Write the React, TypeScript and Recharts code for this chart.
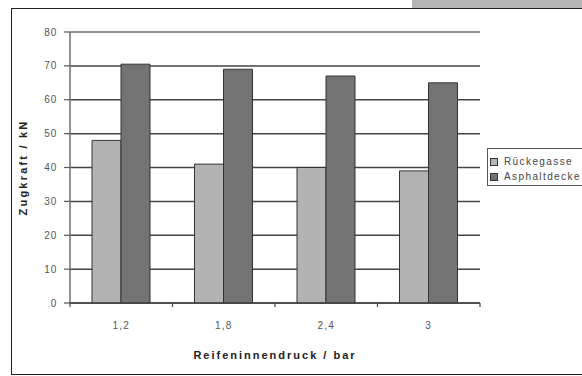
import {
  BarChart,
  Bar,
  XAxis,
  YAxis,
  CartesianGrid,
  ReferenceLine,
} from 'recharts';

const categories = ['1,2', '1,8', '2,4', '3'];
const rueckegasse = [48, 41, 40, 39];
const asphaltdecke = [70.5, 69, 67, 65];
const yTicks = [0, 10, 20, 30, 40, 50, 60, 70, 80];

const seriesInfo = [
  { key: 'rueckegasse', label: 'Rückegasse', color: '#b3b3b3' },
  { key: 'asphaltdecke', label: 'Asphaltdecke', color: '#737373' },
];

const data = categories.map((druck, i) => ({
  druck,
  rueckegasse: rueckegasse[i],
  asphaltdecke: asphaltdecke[i],
}));

const CHART_W = 582;
const CHART_H = 376;
const MARGIN = { top: 32, right: 102, bottom: 0, left: 0 };
const Y_AXIS_W = 70;
const PLOT_W = CHART_W - MARGIN.left - MARGIN.right - Y_AXIS_W;
const BAND = PLOT_W / categories.length;

const FONT = 'Arial, "Liberation Sans", sans-serif';

// category label in the middle, small tick marks on the band edges
function PressureTick(props: any) {
  const { x, y, payload, index } = props;
  const left = x - BAND / 2;
  const right = x + BAND / 2;
  return (
    <g>
      <line x1={left} y1={y} x2={left} y2={y + 4} stroke="#444" strokeWidth={1.2} />
      {index === categories.length - 1 && (
        <line x1={right} y1={y} x2={right} y2={y + 4} stroke="#444" strokeWidth={1.2} />
      )}
      <text
        x={x}
        y={y + 26}
        textAnchor="middle"
        fontSize={10}
        letterSpacing={1.2}
        fill="#555"
        fontFamily={FONT}
      >
        {payload.value}
      </text>
    </g>
  );
}

function LegendBox() {
  return (
    <div
      style={{
        position: 'absolute',
        left: 487,
        top: 148,
        border: '1.5px solid #555',
        height: 38,
        width: 110,
        boxSizing: 'border-box',
        padding: '5px 0 0 2px',
        fontFamily: FONT,
        fontSize: 10,
        letterSpacing: 1.4,
        color: '#444',
        background: '#fff',
      }}
    >
      {seriesInfo.map((it) => (
        <div key={it.key} style={{ display: 'flex', alignItems: 'center', height: 15 }}>
          <span
            style={{
              display: 'inline-block',
              width: 6,
              height: 6,
              background: it.color,
              border: '1px solid #333',
              marginRight: 6,
            }}
          />
          <span>{it.label}</span>
        </div>
      ))}
    </div>
  );
}

export default function App() {
  return (
    <div
      style={{
        position: 'absolute',
        top: 0,
        left: 0,
        width: CHART_W,
        height: CHART_H,
        overflow: 'hidden',
        background: '#fff',
      }}
    >
      {/* page strip above the frame */}
      <div
        style={{ position: 'absolute', left: 412, top: 0, width: 170, height: 8, background: '#b4b4b4' }}
      />
      {/* chart frame */}
      <div
        style={{
          position: 'absolute',
          left: 11,
          top: 8,
          width: 600,
          height: 367,
          border: '1.5px solid #222',
          boxSizing: 'border-box',
        }}
      />
      <div style={{ position: 'absolute', left: 0, top: 0 }}>
        <BarChart
          width={CHART_W}
          height={CHART_H}
          data={data}
          margin={MARGIN}
          barGap={0}
          barSize={29}
        >
          <CartesianGrid vertical={false} stroke="#444" strokeWidth={1.5} />
          <ReferenceLine y={80} stroke="#9a9a9a" strokeWidth={1.4} />
          <XAxis
            dataKey="druck"
            height={CHART_H - 303}
            axisLine={{ stroke: '#444', strokeWidth: 1.5 }}
            tickLine={false}
            tickSize={0}
            tickMargin={0}
            tick={<PressureTick />}
            interval={0}
            label={{
              value: 'Reifeninnendruck / bar',
              position: 'insideBottom',
              offset: 17,
              style: {
                fontFamily: FONT,
                fontSize: 11,
                fontWeight: 'bold',
                letterSpacing: 2,
                fill: '#222',
              },
            }}
          />
          <YAxis
            width={Y_AXIS_W}
            domain={[0, 80]}
            ticks={yTicks}
            interval={0}
            axisLine={{ stroke: '#777', strokeWidth: 1.6 }}
            tickLine={{ stroke: '#555', strokeWidth: 1.2 }}
            tickSize={6}
            tickMargin={7}
            tick={{ fontSize: 10, fill: '#555', fontFamily: FONT, letterSpacing: 0.8 }}
            label={({ viewBox }: any) => {
              const cx = 23;
              const cy = viewBox.y + viewBox.height / 2;
              return (
                <text
                  x={cx}
                  y={cy}
                  transform={`rotate(-90 ${cx} ${cy})`}
                  textAnchor="middle"
                  dominantBaseline="central"
                  fontFamily={FONT}
                  fontSize={11}
                  fontWeight="bold"
                  letterSpacing={2.2}
                  fill="#222"
                >
                  Zugkraft / kN
                </text>
              );
            }}
          />
          <YAxis
            yAxisId="frame"
            orientation="right"
            width={0}
            domain={[0, 80]}
            tick={false}
            tickLine={false}
            axisLine={{ stroke: '#9a9a9a', strokeWidth: 1.4 }}
          />
          {seriesInfo.map((s) => (
            <Bar
              key={s.key}
              dataKey={s.key}
              name={s.label}
              fill={s.color}
              stroke="#333"
              strokeWidth={1}
              isAnimationActive={false}
            />
          ))}
        </BarChart>
      </div>
      <LegendBox />
    </div>
  );
}
